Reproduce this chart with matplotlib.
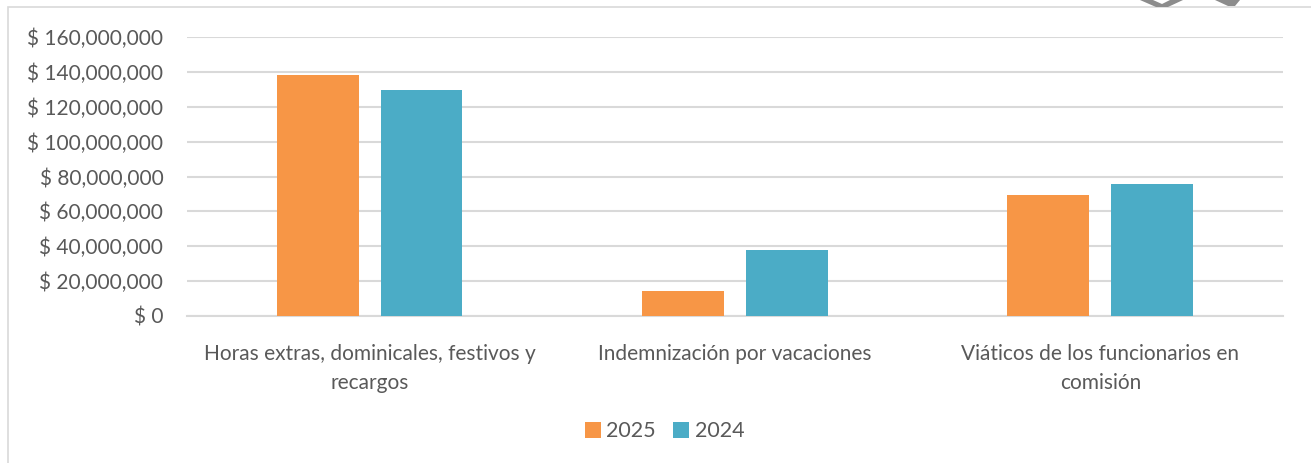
import numpy as np
import matplotlib.pyplot as plt
from matplotlib.patches import Rectangle, Polygon
from matplotlib.ticker import FuncFormatter

# categories and values (pesos)
categorias = ["Horas extras, dominicales, festivos y\nrecargos",
              "Indemnización por vacaciones",
              "Viáticos de los funcionarios en\ncomisión"]
valores_2025 = [138200000, 14300000, 69300000]
valores_2024 = [129600000, 38000000, 75600000]
series = ["2025", "2024"]

plt.rcParams['font.family'] = ['Lato', 'DejaVu Sans']

W, H = 1311, 463
fig = plt.figure(figsize=(W / 100, H / 100), dpi=100)
ax = fig.add_axes([0.1426, 0.3175, 0.8360, 0.6025])

# chart border
fig.patches.append(Rectangle((8 / W, -0.01), 1.01, 1 - 7 / H + 0.01,
                             transform=fig.transFigure, fill=False,
                             edgecolor='#d9d9d9', linewidth=1.2))
# bits of a logo cut off at the top right
for pts in ([(1140, 0), (1153, 0), (1162, 4), (1170, 0), (1183, 0), (1168, 7), (1156, 7)],
            [(1215, 0), (1240, 0), (1235, 6), (1228, 6)]):
    fig.patches.append(Polygon([(px / W, 1 - py / H) for px, py in pts],
                               closed=True, transform=fig.transFigure,
                               facecolor='#8c8c8c', edgecolor='none'))

x = np.arange(len(categorias))
w = 0.224
ax.bar(x - 0.142, valores_2025, w, color='#F79646', label=series[0], zorder=3)
ax.bar(x + 0.142, valores_2024, w, color='#4BACC6', label=series[1], zorder=3)

ax.set_xlim(-0.5, 2.5)
ax.set_ylim(0, 160000000)
ax.set_yticks(np.arange(0, 160000001, 20000000))
ax.yaxis.set_major_formatter(FuncFormatter(lambda v, p: "$ {:,.0f}".format(v)))
ax.set_xticks(x)
ax.set_xticklabels(categorias, fontsize=15, linespacing=1.6)

ax.grid(axis='y', color='#d9d9d9', linewidth=1.5, zorder=0)
for s in ['top', 'right', 'left']:
    ax.spines[s].set_visible(False)
ax.spines['bottom'].set_color('#d9d9d9')
ax.spines['bottom'].set_linewidth(1.5)
ax.tick_params(axis='both', length=0, labelcolor='#595959')
ax.tick_params(axis='y', labelsize=15, pad=17)
ax.tick_params(axis='x', pad=20)

fig.legend(loc='lower center', bbox_to_anchor=(0.507, 0.005), ncol=2,
           frameon=False, fontsize=15.5, labelcolor='#595959',
           handlelength=0.75, handleheight=0.75, columnspacing=0.8,
           handletextpad=0.25)

fig.savefig("out.png", dpi=100)
